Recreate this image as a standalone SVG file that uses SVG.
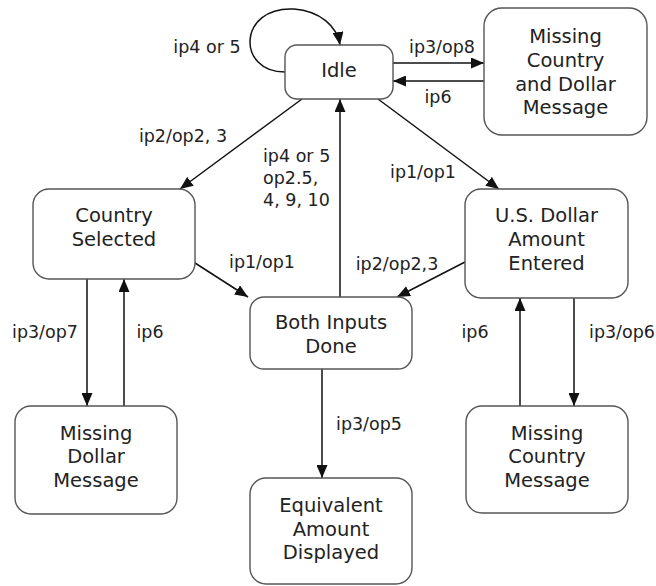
<svg xmlns="http://www.w3.org/2000/svg" width="656" height="586" viewBox="0 0 656 586">
  <style>
    .box { fill: #ffffff; stroke: #555555; stroke-width: 1.4; }
    .node { font-family: "DejaVu Sans", Verdana, sans-serif; font-size: 19.5px; fill: #222222; text-anchor: middle; }
    .lbl { font-family: "DejaVu Sans", Verdana, sans-serif; font-size: 17.5px; fill: #222222; text-anchor: middle; }
    .lbl-l { text-anchor: start; }
    .edge { fill: none; stroke: #111111; stroke-width: 1.5; marker-end: url(#arrow); }
  </style>
  <defs>
    <marker id="arrow" markerUnits="userSpaceOnUse" markerWidth="13" markerHeight="11" refX="13" refY="5.5" orient="auto">
      <path d="M0,0 L13,5.5 L0,11 z" fill="#111111"/>
    </marker>
  </defs>
  <rect width="656" height="586" fill="#ffffff"/>

  <g id="connectors">
    <!-- self loop on Idle -->
    <path class="edge" d="M285,72 C236,72 238,6 294,9 C320,11 337,26 340,45"/>
    <!-- Idle <-> Missing Country and Dollar -->
    <line class="edge" x1="393" y1="63" x2="484" y2="63"/>
    <line class="edge" x1="484" y1="81" x2="393" y2="81"/>
    <!-- Idle -> Country Selected -->
    <line class="edge" x1="302" y1="99" x2="180" y2="189"/>
    <!-- Idle -> U.S. Dollar -->
    <line class="edge" x1="378" y1="99" x2="499" y2="189"/>
    <!-- Both Inputs -> Idle -->
    <line class="edge" x1="340" y1="297" x2="340" y2="99"/>
    <!-- Country Selected -> Both Inputs -->
    <line class="edge" x1="195" y1="263" x2="248" y2="297"/>
    <!-- U.S. Dollar -> Both Inputs -->
    <line class="edge" x1="465" y1="262" x2="397" y2="297"/>
    <!-- Country Selected <-> Missing Dollar -->
    <line class="edge" x1="87" y1="279" x2="87" y2="406"/>
    <line class="edge" x1="124" y1="406" x2="124" y2="279"/>
    <!-- U.S. Dollar <-> Missing Country -->
    <line class="edge" x1="520" y1="406" x2="520" y2="298"/>
    <line class="edge" x1="574" y1="298" x2="574" y2="406"/>
    <!-- Both Inputs -> Equivalent -->
    <line class="edge" x1="322" y1="369" x2="322" y2="478"/>

    <text class="lbl" x="207" y="53">ip4 or 5</text>
    <text class="lbl" x="442" y="53">ip3/op8</text>
    <text class="lbl" x="438" y="103">ip6</text>
    <text class="lbl" x="183" y="142">ip2/op2, 3</text>
    <text class="lbl lbl-l" x="263" y="162">ip4 or 5</text>
    <text class="lbl lbl-l" x="263" y="184">op2.5,</text>
    <text class="lbl lbl-l" x="263" y="206">4, 9, 10</text>
    <text class="lbl" x="423" y="178">ip1/op1</text>
    <text class="lbl" x="262" y="268">ip1/op1</text>
    <text class="lbl" x="397" y="270">ip2/op2,3</text>
    <text class="lbl" x="45" y="338">ip3/op7</text>
    <text class="lbl" x="150" y="338">ip6</text>
    <text class="lbl" x="475" y="338">ip6</text>
    <text class="lbl" x="622" y="338">ip3/op6</text>
    <text class="lbl" x="369" y="430">ip3/op5</text>
  </g>

  <g id="idle">
    <rect class="box" x="285" y="45" width="108" height="54" rx="12"/>
    <text class="node" x="339" y="77">Idle</text>
  </g>

  <g id="missing-country-dollar">
    <rect class="box" x="484" y="8" width="163" height="127" rx="18"/>
    <text class="node" x="565.5" y="43">Missing</text>
    <text class="node" x="565.5" y="67">Country</text>
    <text class="node" x="565.5" y="91">and Dollar</text>
    <text class="node" x="565.5" y="114">Message</text>
  </g>

  <g id="country-selected">
    <rect class="box" x="33" y="189" width="162" height="90" rx="16"/>
    <text class="node" x="114" y="222">Country</text>
    <text class="node" x="114" y="246">Selected</text>
  </g>

  <g id="us-dollar-entered">
    <rect class="box" x="465" y="189" width="163" height="109" rx="16"/>
    <text class="node" x="546.5" y="222">U.S. Dollar</text>
    <text class="node" x="546.5" y="246">Amount</text>
    <text class="node" x="546.5" y="270">Entered</text>
  </g>

  <g id="both-inputs-done">
    <rect class="box" x="250" y="297" width="162" height="72" rx="14"/>
    <text class="node" x="331" y="329">Both Inputs</text>
    <text class="node" x="331" y="353">Done</text>
  </g>

  <g id="missing-dollar">
    <rect class="box" x="15" y="406" width="162" height="108" rx="16"/>
    <text class="node" x="96" y="440">Missing</text>
    <text class="node" x="96" y="463">Dollar</text>
    <text class="node" x="96" y="487">Message</text>
  </g>

  <g id="missing-country">
    <rect class="box" x="466" y="406" width="162" height="107" rx="16"/>
    <text class="node" x="547" y="440">Missing</text>
    <text class="node" x="547" y="463">Country</text>
    <text class="node" x="547" y="487">Message</text>
  </g>

  <g id="equivalent-displayed">
    <rect class="box" x="250" y="478" width="162" height="106" rx="16"/>
    <text class="node" x="331" y="512">Equivalent</text>
    <text class="node" x="331" y="536">Amount</text>
    <text class="node" x="331" y="559">Displayed</text>
  </g>
</svg>
